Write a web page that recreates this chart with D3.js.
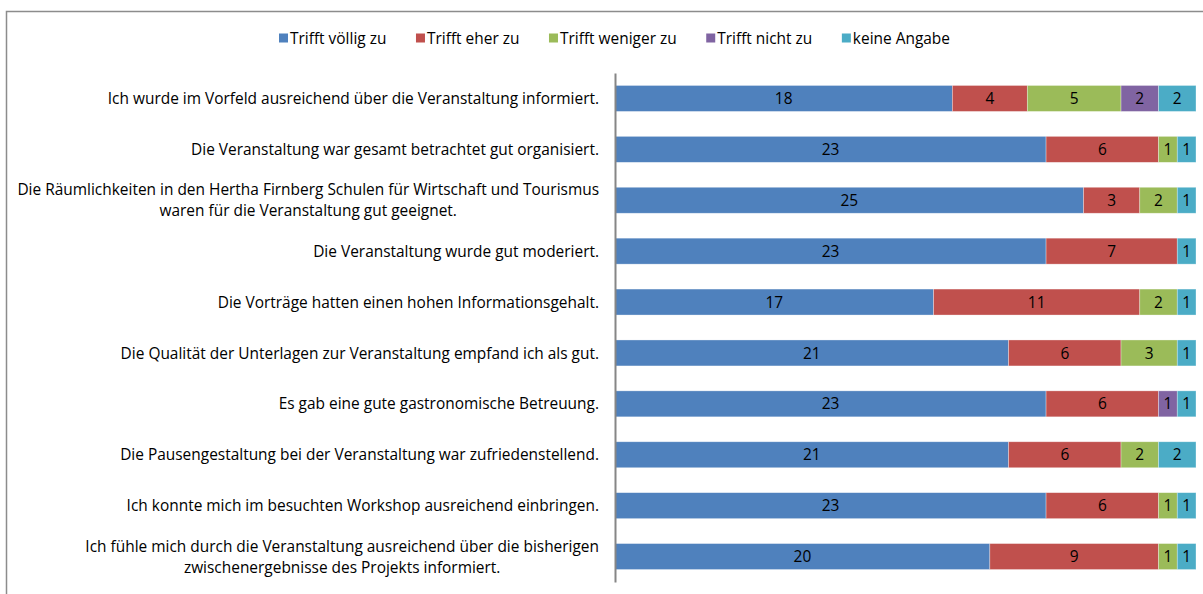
<!DOCTYPE html>
<html><head><meta charset="utf-8">
<script src="https://cdn.jsdelivr.net/npm/d3@7"></script>
<style>
html,body{margin:0;padding:0;background:#fff;}
text{font-family:"Open Sans","Liberation Sans",Arial,sans-serif;}
</style></head>
<body><svg id="c" width="1203" height="594"></svg>
<script>
const categories = [
  ["Ich wurde im Vorfeld ausreichend über die Veranstaltung informiert."],
  ["Die Veranstaltung war gesamt betrachtet gut organisiert."],
  ["Die Räumlichkeiten in den Hertha Firnberg Schulen für Wirtschaft und Tourismus", "waren für die Veranstaltung gut geeignet."],
  ["Die Veranstaltung wurde gut moderiert."],
  ["Die Vorträge hatten einen hohen Informationsgehalt."],
  ["Die Qualität der Unterlagen zur Veranstaltung empfand ich als gut."],
  ["Es gab eine gute gastronomische Betreuung."],
  ["Die Pausengestaltung bei der Veranstaltung war zufriedenstellend."],
  ["Ich konnte mich im besuchten Workshop ausreichend einbringen."],
  ["Ich fühle mich durch die Veranstaltung ausreichend über die bisherigen", "zwischenergebnisse des Projekts informiert."]
];
const seriesNames = ["Trifft völlig zu", "Trifft eher zu", "Trifft weniger zu", "Trifft nicht zu", "keine Angabe"];
const trifftVoellig = [18, 23, 25, 23, 17, 21, 23, 21, 23, 20];
const trifftEher    = [4, 6, 3, 7, 11, 6, 6, 6, 6, 9];
const trifftWeniger = [5, 1, 2, 0, 2, 3, 0, 2, 1, 1];
const trifftNicht   = [2, 0, 0, 0, 0, 0, 1, 0, 0, 0];
const keineAngabe   = [2, 1, 1, 1, 1, 1, 1, 2, 1, 1];
const colors = ["#4F81BD", "#C0504D", "#9BBB59", "#8064A2", "#4BACC6"];

const seriesValues = [trifftVoellig, trifftEher, trifftWeniger, trifftNicht, keineAngabe];
const rows = categories.map((c, i) => {
  const o = {idx: i};
  seriesNames.forEach((s, j) => o[s] = seriesValues[j][i]);
  return o;
});
const stacked = d3.stack().keys(seriesNames)(rows);

const svg = d3.select("#c");

// fit font size so the longest label line spans the same width as in the reference
const probe = svg.append("text").attr("font-size", 14).text(categories[2][0]);
const fontSize = 14 * 582 / probe.node().getComputedTextLength();
probe.remove();

// outer border
svg.append("rect").attr("x", 6.5).attr("y", 11.5).attr("width", 1210).attr("height", 600)
  .attr("fill", "none").attr("stroke", "#8c8c8c").attr("stroke-width", 1.5);

const x = d3.scaleLinear().domain([0, 31]).range([615, 1196]);
const y = d3.scaleBand().domain(d3.range(categories.length)).range([73, 582]).paddingInner(0.49).paddingOuter(0.245);

const g = svg.append("g");
stacked.forEach((layer, j) => {
  const lg = g.append("g");
  lg.selectAll("rect").data(layer.filter(d => d[1] - d[0] > 0)).join("rect")
    .attr("x", d => x(d[0])).attr("width", d => x(d[1]) - x(d[0]))
    .attr("y", d => y(d.data.idx)).attr("height", y.bandwidth())
    .attr("fill", colors[j]).attr("stroke", "rgba(255,255,255,0.45)").attr("stroke-width", 0.7);
  lg.selectAll("text").data(layer.filter(d => d[1] - d[0] > 0)).join("text")
    .attr("x", d => (x(d[0]) + x(d[1])) / 2).attr("y", d => y(d.data.idx) + y.bandwidth() / 2)
    .attr("text-anchor", "middle").attr("dy", "0.36em")
    .attr("font-size", fontSize).attr("fill", "#000")
    .text(d => d[1] - d[0]);
});

// axis line
const ax = svg.append("g").attr("transform", "translate(615,0)")
  .call(d3.axisLeft(y).tickSize(0).tickFormat(""));
ax.select(".domain").attr("stroke", "#868686").attr("stroke-width", 2);

// category labels (multi-line labels as one text element with tspans)
const labelRight = 599;
const lineH = 21;
categories.forEach((lines, i) => {
  const cy = y(i) + y.bandwidth() / 2;
  const t = svg.append("text").attr("font-size", fontSize).attr("fill", "#000").attr("text-anchor", "middle");
  const spans = lines.map((ln, k) => t.append("tspan")
    .attr("y", cy + (k - (lines.length - 1) / 2) * lineH).attr("dy", "0.36em").text(ln));
  const bw = d3.max(spans, s => s.node().getComputedTextLength());
  spans.forEach(s => s.attr("x", labelRight - bw / 2));
});

// legend
const legY = 38;
const lg = svg.append("g");
const items = seriesNames.map((s, j) => {
  const it = lg.append("g");
  it.append("rect").attr("width", 9).attr("height", 9).attr("y", legY - 4.5).attr("fill", colors[j]);
  const t = it.append("text").attr("x", 11).attr("y", legY).attr("dy", "0.36em")
    .attr("font-size", fontSize).attr("fill", "#000").text(s);
  return {it, w: 11 + t.node().getComputedTextLength()};
});
const totalW = 671;
const gap = (totalW - d3.sum(items, d => d.w)) / (items.length - 1);
let cx = 614.5 - totalW / 2;
items.forEach(d => { d.it.attr("transform", `translate(${cx},0)`); cx += d.w + gap; });
</script></body></html>
